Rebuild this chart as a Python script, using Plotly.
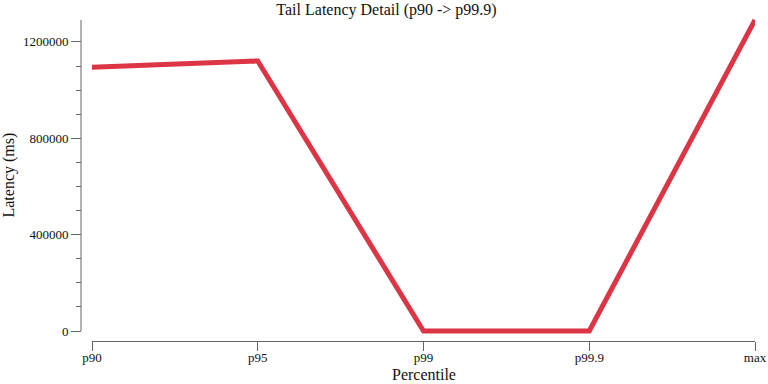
import plotly.graph_objects as go

percentiles = ["p90", "p95", "p99", "p99.9", "max"]
latency_ms = [1095000, 1121000, 100, 150, 1291000]
major_ticks = [0, 400000, 800000, 1200000]
minor_ticks = [100000, 200000, 300000, 500000, 600000, 700000, 900000, 1000000, 1100000]

W, H = 768, 384
ML, MR, MT, MB = 81, 13, 15, 43
PW = W - ML - MR
PH = H - MT - MB
FONT = "Liberation Serif"
AX = "#666666"
XD0 = (92 - ML) / PW
# plot area spans y=15..336 px; value 0 at y=331, max at y=20
PAD = 5
ymax = max(latency_ms)
per_px = ymax / 311.0

fig = go.Figure(go.Scatter(
    x=percentiles, y=latency_ms, mode="lines",
    line=dict(color="#dc3545", width=5), hoverinfo="skip"))

fig.add_shape(type="line", xref="paper", yref="y", x0=0, x1=0, y0=0, y1=ymax,
              line=dict(color=AX, width=1))

fig.update_layout(
    width=W, height=H, margin=dict(l=ML, r=MR, t=MT, b=MB, autoexpand=False),
    paper_bgcolor="white", plot_bgcolor="white", showlegend=False,
    font=dict(family=FONT, size=13, color="#111"),
    title=dict(text="Tail Latency Detail (p90 -> p99.9)", x=386.5 / W, xref="container",
               y=1 - 9 / H, yref="container", yanchor="middle", xanchor="center",
               font=dict(size=16, family=FONT, color="#111")),
    xaxis=dict(domain=[XD0, 1], anchor="free", position=0, automargin=False,
               type="category", range=[0, len(percentiles) - 1],
               showgrid=False, zeroline=False, showline=True, linecolor=AX, linewidth=1,
               ticks="outside", ticklen=9, tickcolor=AX, ticklabelstandoff=-5,
               tickfont=dict(size=13, family=FONT)),
    yaxis=dict(domain=[(341 - 336) / PH, 1], anchor="free", position=0, automargin=False,
               range=[-PAD * per_px, ymax + PAD * per_px], tickvals=major_ticks,
               tickformat="d", showgrid=False, zeroline=False, showline=False,
               ticks="outside", ticklen=10, tickcolor=AX,
               tickfont=dict(size=13, family=FONT),
               minor=dict(tickvals=minor_ticks, ticks="outside", ticklen=5, tickcolor=AX,
                          showgrid=False)),
    annotations=[
        dict(text="Percentile", xref="paper", yref="paper", x=(XD0 + 1) / 2,
             y=-(374 - (H - MB)) / PH, showarrow=False, xanchor="center", yanchor="middle",
             font=dict(size=16, family=FONT, color="#111")),
        dict(text="Latency (ms)", xref="paper", yref="paper", x=-(ML - 9) / PW,
             y=1 - (175.5 - MT) / PH, showarrow=False, textangle=-90, xanchor="center",
             yanchor="middle", font=dict(size=16, family=FONT, color="#111")),
    ],
)

fig.write_html("out.html")
